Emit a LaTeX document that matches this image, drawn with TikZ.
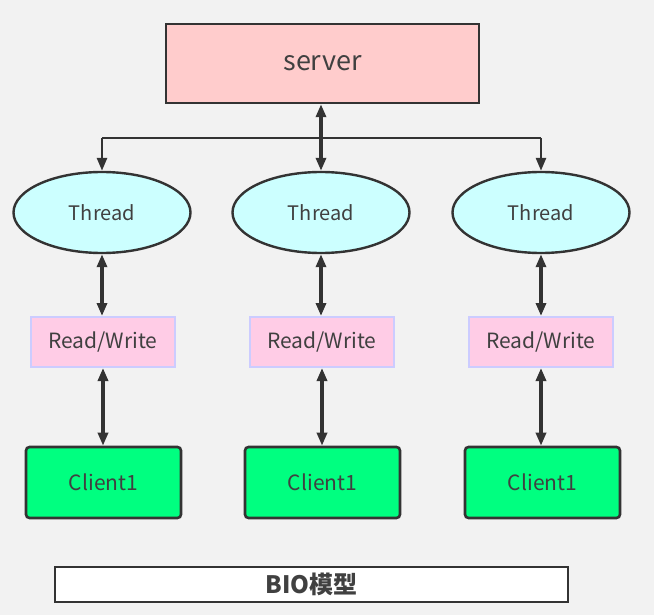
\documentclass[tikz,border=0pt]{standalone}
\usepackage{fontspec}
\setmainfont{Noto Sans CJK SC}
\usetikzlibrary{shapes.geometric,arrows.meta}
\definecolor{bg}{HTML}{F2F2F2}
\definecolor{ln}{HTML}{333333}
\definecolor{tx}{HTML}{404040}
\definecolor{srv}{HTML}{FFCCCC}
\definecolor{thr}{HTML}{CCFFFF}
\definecolor{rwf}{HTML}{FFCCE6}
\definecolor{rwd}{HTML}{CCCCFF}
\definecolor{cli}{HTML}{00FF80}
\begin{document}
\begin{tikzpicture}[x=1pt,y=-1pt,
  txt/.style={text=tx},
  serverbox/.style={draw=ln,line width=2.4pt,fill=srv,minimum width=313pt,minimum height=79pt,inner sep=0pt,font=\fontsize{27}{32}\selectfont,txt},
  threadnode/.style={ellipse,draw=ln,line width=2.4pt,fill=thr,minimum width=177pt,minimum height=81pt,inner sep=0pt,font=\fontsize{20}{24}\selectfont,txt},
  rwbox/.style={draw=rwd,line width=2pt,fill=rwf,minimum width=144pt,minimum height=50pt,inner sep=0pt,font=\fontsize{21}{25}\selectfont,txt},
  clientbox/.style={draw=ln,line width=2.6pt,fill=cli,rounded corners=3.5pt,minimum width=155pt,minimum height=71pt,inner sep=0pt,font=\fontsize{21}{25}\selectfont,txt},
  biobox/.style={draw=ln,line width=2.6pt,fill=white,minimum width=513pt,minimum height=35pt,inner sep=0pt,font=\bfseries\fontsize{24}{28}\selectfont,txt},
  link/.style={draw=ln,line width=3.2pt,{Triangle[length=13pt,width=10pt]}-{Triangle[length=13pt,width=10pt]}},
  down/.style={draw=ln,line width=2.6pt,-{Triangle[length=13pt,width=10pt]}},
  bus/.style={draw=ln,line width=2.6pt}
]
\fill[bg] (0,0) rectangle (654,615);
\useasboundingbox (0,0) rectangle (654,615);

\node[serverbox] (server) at (322.5,63.5) {server};

\node[threadnode] (t1) at (102,212.5) {Thread};
\node[threadnode] (t2) at (321,212.5) {Thread};
\node[threadnode] (t3) at (541,212.5) {Thread};

\node[rwbox] (rw1) at (103,342) {Read/Write};
\node[rwbox] (rw2) at (322,342) {Read/Write};
\node[rwbox] (rw3) at (541,342) {Read/Write};

\node[clientbox] (c1) at (103.5,482.5) {Client1};
\node[clientbox] (c2) at (322.5,482.5) {Client1};
\node[clientbox] (c3) at (542.5,482.5) {Client1};

\node[biobox] (bio) at (311.5,584.5) {BIO模型};

\coordinate (h1) at (102,138);
\coordinate (h3) at (541,138);

\draw[bus] (h1) -- (h3);
\draw[down] (h1) -- (t1.north);
\draw[down] (h3) -- (t3.north);
\draw[link] (server.south -| t2.north) -- (t2.north);

\draw[link] (t1.south) -- (rw1.north -| t1.south);
\draw[link] (t2.south) -- (rw2.north -| t2.south);
\draw[link] (t3.south) -- (rw3.north -| t3.south);

\draw[link] (rw1.south) -- (c1.north -| rw1.south);
\draw[link] (rw2.south) -- (c2.north -| rw2.south);
\draw[link] (rw3.south) -- (c3.north -| rw3.south);
\end{tikzpicture}
\end{document}
